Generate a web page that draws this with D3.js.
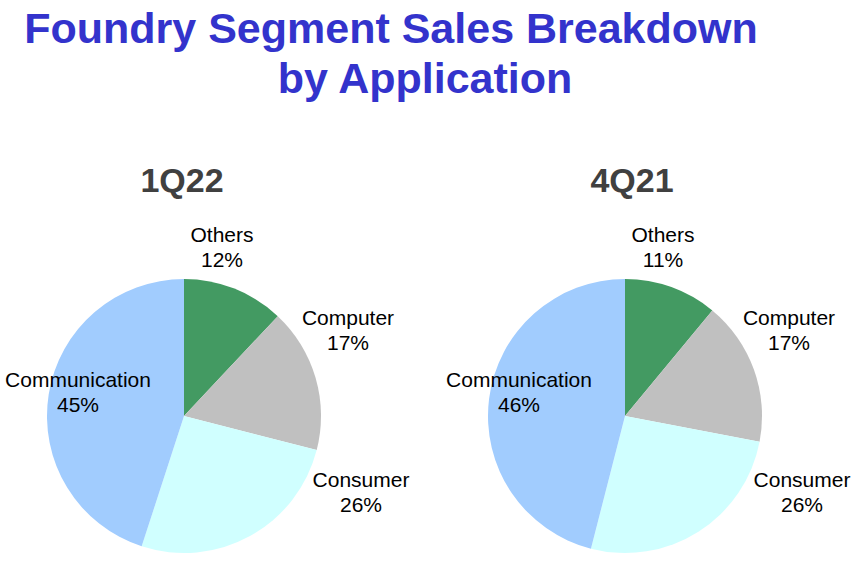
<!DOCTYPE html>
<html>
<head>
<meta charset="utf-8">
<script src="https://cdn.jsdelivr.net/npm/d3@7"></script>
<style>
  body { margin: 0; background: #fff; }
  text { font-family: "Liberation Sans", Arial, sans-serif; }
</style>
</head>
<body>
<script>
// data
const categories = ["Others", "Computer", "Consumer", "Communication"];
const periods = ["1Q22", "4Q21"];
const share1Q22 = [12, 17, 26, 45];
const share4Q21 = [11, 17, 26, 46];
const shares = [share1Q22, share4Q21];

const w = 865, h = 561;
const radius = 137;
const colors = ["#439a62", "#c0c0c0", "#d0ffff", "#a1ccfe"];

// layout of the two pies
const charts = [
    { cx: 184, cy: 416, titleX: 182 },
    { cx: 625, cy: 416, titleX: 632 }
];

// label anchors relative to the pie centre (best-fit placement)
const labelOffset = {
    "Others": [38, -168],
    "Computer": [164, -85],
    "Consumer": [177, 77],
    "Communication": [-106, -23]
};

const color = d3.scaleOrdinal().domain(categories).range(colors);

const svg = d3.select("body").append("svg")
    .attr("width", w)
    .attr("height", h);

svg.append("text")
    .attr("x", 391)
    .attr("y", 43)
    .attr("text-anchor", "middle")
    .attr("font-size", "43px")
    .attr("font-weight", "bold")
    .attr("fill", "#3333cc")
    .text("Foundry Segment Sales Breakdown");

svg.append("text")
    .attr("x", 425)
    .attr("y", 93)
    .attr("text-anchor", "middle")
    .attr("font-size", "43px")
    .attr("font-weight", "bold")
    .attr("fill", "#3333cc")
    .text("by Application");

const pie = d3.pie().sort(null).value(function (d) { return d.value; });
const arc = d3.arc().innerRadius(0).outerRadius(radius);

periods.forEach(function (period, i) {
    const c = charts[i];
    const data = categories.map(function (cat, j) {
        return { category: cat, value: shares[i][j] };
    });

    svg.append("text")
        .attr("x", c.titleX)
        .attr("y", 192)
        .attr("text-anchor", "middle")
        .attr("font-size", "34px")
        .attr("font-weight", "bold")
        .attr("fill", "#404040")
        .text(period);

    const g = svg.append("g")
        .attr("transform", "translate(" + c.cx + "," + c.cy + ")");

    g.selectAll(".slice")
        .data(pie(data))
        .enter().append("path")
        .attr("class", "slice")
        .attr("d", arc)
        .attr("fill", function (d) { return color(d.data.category); });

    const labels = g.selectAll(".label")
        .data(pie(data))
        .enter().append("text")
        .attr("class", "label")
        .attr("text-anchor", "middle")
        .attr("font-size", "21px")
        .attr("fill", "#000")
        .attr("transform", function (d) {
            const o = labelOffset[d.data.category];
            return "translate(" + o[0] + "," + o[1] + ")";
        });

    labels.append("tspan")
        .attr("x", 0)
        .attr("y", -6)
        .text(function (d) { return d.data.category; });

    labels.append("tspan")
        .attr("x", 0)
        .attr("y", 19)
        .text(function (d) { return d.data.value + "%"; });
});
</script>
</body>
</html>
